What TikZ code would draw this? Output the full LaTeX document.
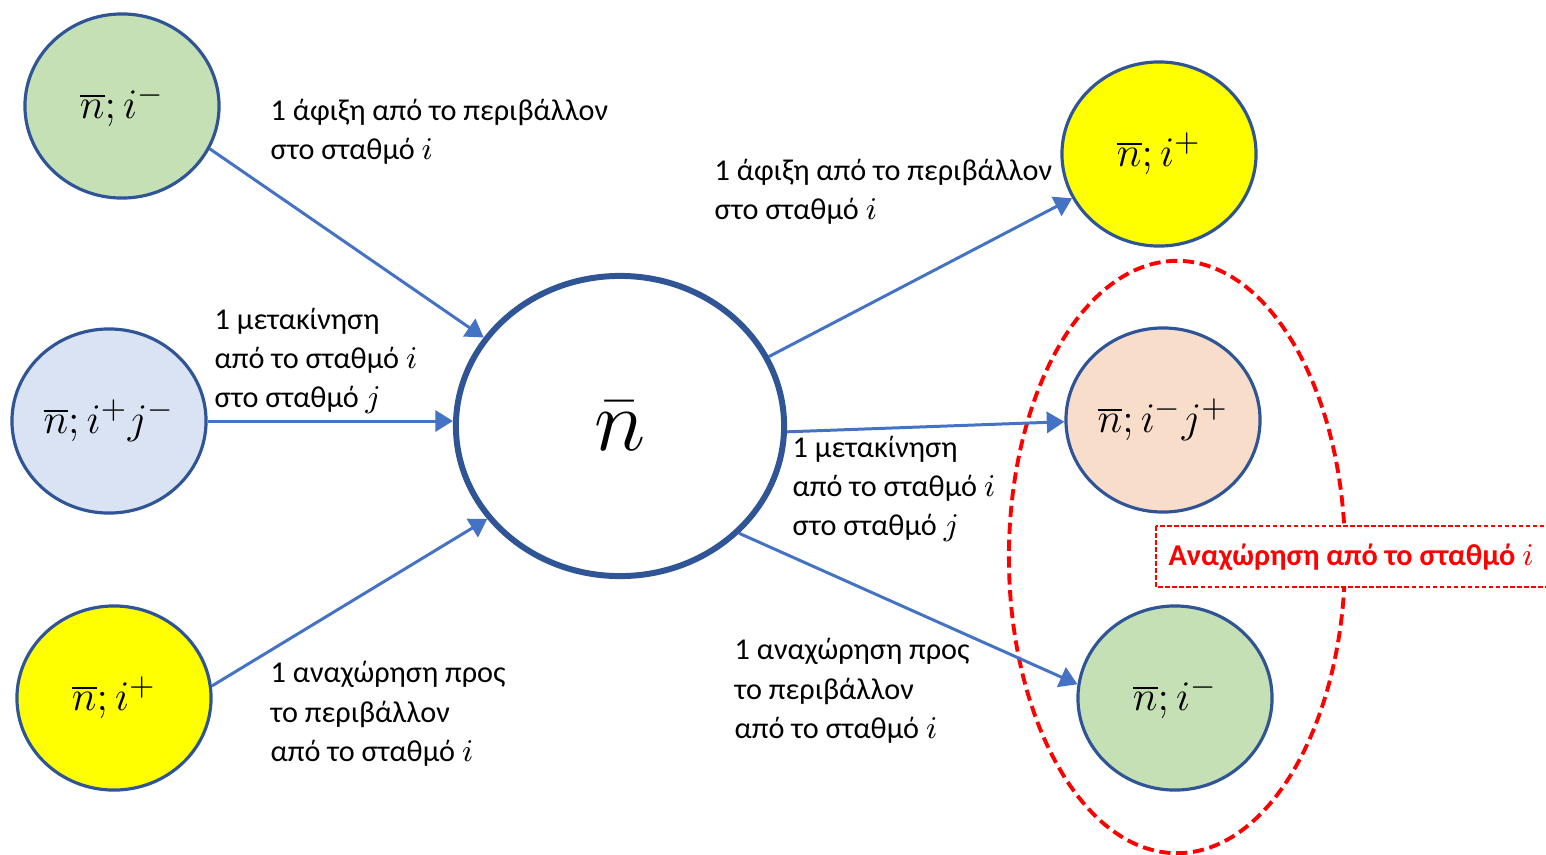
\documentclass[tikz,border=0pt]{standalone}
\usepackage{fontspec}
\setmainfont{Carlito}
\usetikzlibrary{shapes.geometric,arrows.meta}
\definecolor{bord}{HTML}{2F5597}
\definecolor{arrc}{HTML}{4472C4}
\definecolor{gfill}{HTML}{C5E0B4}
\definecolor{bfill}{HTML}{DAE3F3}
\definecolor{yfill}{HTML}{FFFF00}
\definecolor{pfill}{HTML}{F8DDCB}
\definecolor{redc}{HTML}{FF0000}
\begin{document}
\begin{tikzpicture}[x=0.01cm,y=-0.01cm,
  state/.style={ellipse, draw=bord, line width=0.9pt, minimum width=1.94cm, minimum height=1.84cm, inner sep=0pt, font=\fontsize{12.5}{15}\selectfont},
  arr/.style={draw=arrc, line width=0.85pt, -{Triangle[length=5pt,width=6pt]}},
  lbl/.style={anchor=west, align=left, inner sep=0pt, font=\fontsize{8.6}{11.2}\selectfont}
]
\useasboundingbox (0,0) rectangle (1546,854);

% red dashed group ellipse (behind)
\node[ellipse, draw=redc, line width=1.1pt, dash pattern=on 3.2pt off 1.6pt, minimum width=3.36cm, minimum height=5.92cm, inner sep=0pt] (grp) at (1177,557) {};

\node[state, fill=gfill] (tl) at (122,106) {$\overline{n}; i^-$};
\node[state, fill=bfill] (ml) at (109,421) {$\overline{n}; i^+j^-$};
\node[state, fill=yfill] (bl) at (114,698) {$\overline{n}; i^+$};
\node[state, fill=yfill] (tr) at (1159,154) {$\overline{n}; i^+$};
\node[state, fill=pfill] (mr) at (1163,420) {$\overline{n}; i^-j^+$};
\node[state, fill=gfill] (br) at (1175,698) {$\overline{n}; i^-$};

\node[ellipse, draw=bord, line width=1.7pt, fill=white, minimum width=3.28cm, minimum height=3.0cm, inner sep=0pt, font=\fontsize{31}{36}\selectfont] (c) at (620,426) {$\bar{n}$};

\draw[arr] (tl.-26) -- (c.147);
\draw[arr] (ml.0) -- (ml.0 -| c.west);
\draw[arr] (bl.7) -- (c.215);
\draw[arr] (c.25.6) -- (tr.207.6);
\draw[arr] (c.-2) -- (mr.181);
\draw[arr] (c.-42) -- (br.172.6);

\node[lbl] (l1) at (270,132) {1 άφιξη από το περιβάλλον\\στο σταθμό $i$};
\node[lbl] (l2) at (214,361) {1 μετακίνηση\\από το σταθμό $i$\\στο σταθμό $j$};
\node[lbl] (l3) at (270,714) {1 αναχώρηση προς\\το περιβάλλον\\από το σταθμό $i$};
\node[lbl] (l4) at (714,192) {1 άφιξη από το περιβάλλον\\στο σταθμό $i$};
\node[lbl] (l5) at (792,489) {1 μετακίνηση\\από το σταθμό $i$\\στο σταθμό $j$};
\node[lbl] (l6) at (734,691) {1 αναχώρηση προς\\το περιβάλλον\\από το σταθμό $i$};

\draw[redc, line width=0.4pt, dash pattern=on 1.3pt off 0.7pt, fill=white] (1156,526) rectangle (1560,587);
\node[text=redc, font=\fontsize{8.6}{11}\selectfont\bfseries, inner sep=0pt] (rt) at (1351,557) {Αναχώρηση από το σταθμό $i$};
\end{tikzpicture}
\end{document}
